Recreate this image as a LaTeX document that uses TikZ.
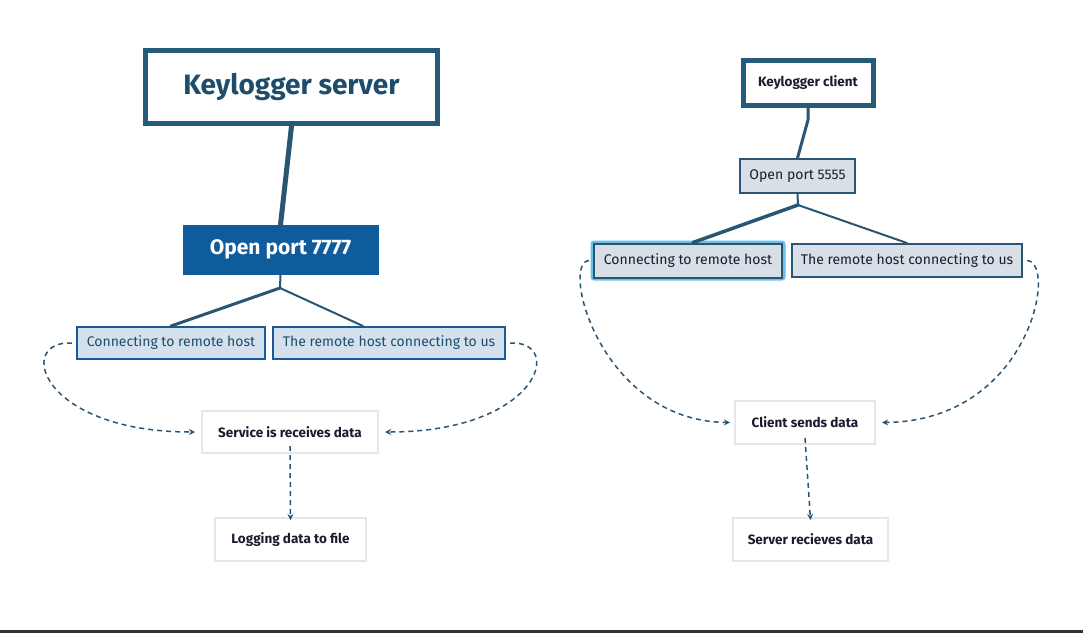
\documentclass[tikz,border=0pt]{standalone}
\usepackage{fontspec}
\setmainfont{Fira Sans}
\usetikzlibrary{arrows.meta}
\definecolor{dkb}{HTML}{245A7A}
\definecolor{srvtxt}{HTML}{1E4D6B}
\definecolor{p7}{HTML}{0F5C9C}
\definecolor{lfill}{HTML}{D4E1ED}
\definecolor{lbord}{HTML}{1A5A96}
\definecolor{gfill}{HTML}{D9DFE6}
\definecolor{gbord}{HTML}{2A5673}
\definecolor{glow}{HTML}{6AC1EE}
\definecolor{txt}{HTML}{1B1B2F}
\definecolor{pale}{HTML}{E6E6E6}
\tikzset{
  bigbox/.style={draw=dkb, line width=5pt, fill=white, inner sep=0pt},
  portbox/.style={fill=p7, draw=p7, inner sep=0pt, text=white, font=\fontsize{21}{24}\selectfont\bfseries},
  lbox/.style={fill=lfill, draw=lbord, line width=2pt, inner sep=0pt, text=srvtxt, font=\fontsize{14}{16}\selectfont},
  gbox/.style={fill=gfill, draw=gbord, line width=2pt, inner sep=0pt, text=txt, font=\fontsize{14}{16}\selectfont},
  pbox/.style={draw=pale, line width=2pt, fill=white, inner sep=0pt, text=txt, font=\fontsize{13.5}{15}\selectfont\bfseries},
  conn/.style={draw=gbord, line cap=round, line join=round},
  dashcon/.style={draw=gbord, line width=1.5pt, dash pattern=on 5pt off 4pt, -{Stealth[length=6pt,width=6pt]}}
}
\begin{document}
\begin{tikzpicture}[x=1pt,y=-1pt]
\useasboundingbox (0,0) rectangle (1083,633);
\fill[white] (0,0) rectangle (1083,633);
\fill[black!80] (0,630) rectangle (1083,633);
% left diagram
\node[bigbox, minimum width=292pt, minimum height=73pt, text=srvtxt, font=\fontsize{28}{32}\selectfont\bfseries] (server) at (291.5,87) {Keylogger server};
\node[portbox, minimum width=195pt, minimum height=49pt] (p7) at (280.5,249.5) {Open port 7777};
\node[lbox, minimum width=188pt, minimum height=32pt] (c1) at (171,343) {Connecting to remote host};
\node[lbox, minimum width=232pt, minimum height=32pt] (c2) at (389,343) {The remote host connecting to us};
\node[pbox, minimum width=176pt, minimum height=42pt] (svc) at (290,432) {Service is receives data};
\node[pbox, minimum width=151pt, minimum height=43pt] (log) at (290.5,539.5) {Logging data to file};
\coordinate (b1) at (280,288);
\draw[conn, line width=5pt] (server.south) -- (p7.north);
\draw[conn, line width=2pt] (p7.south) -- (b1);
\draw[conn, line width=3pt] (b1) -- (c1.north);
\draw[conn, line width=2pt] (b1) -- ([xshift=-26pt]c2.north);
\draw[dashcon] ([xshift=-4pt]c1.west) .. controls (15,340) and (40,432) .. ([xshift=-6pt]svc.west);
\draw[dashcon] ([xshift=4pt]c2.east) .. controls (565,340) and (540,432) .. ([xshift=6pt]svc.east);
\draw[dashcon] ([yshift=8pt]svc.south) -- ([yshift=-3pt]log.north);
% right diagram
\node[bigbox, minimum width=130pt, minimum height=45pt, text=txt, font=\fontsize{13.5}{15}\selectfont\bfseries] (client) at (808,82.5) {Keylogger client};
\node[gbox, minimum width=115pt, minimum height=34pt] (p5) at (797.5,176) {Open port 5555};
\draw[glow, line width=3pt, rounded corners=2pt] (592,242) rectangle (784,279);
\node[gbox, minimum width=188pt, minimum height=34pt] (d1) at (688,260.5) {Connecting to remote host};
\node[gbox, minimum width=230pt, minimum height=33pt] (d2) at (907,260.5) {The remote host connecting to us};
\node[pbox, minimum width=140pt, minimum height=43pt] (csd) at (805,422.5) {Client sends data};
\node[pbox, minimum width=155pt, minimum height=43pt] (srd) at (810.5,539.5) {Server recieves data};
\coordinate (k1) at (808,120);
\coordinate (b2) at (798,205);
\draw[conn, line width=3pt] (client.south) -- (k1) -- (p5.north);
\draw[conn, line width=2pt] (p5.south) -- (b2);
\draw[conn, line width=3.5pt] (b2) -- ([xshift=5pt]d1.north);
\draw[conn, line width=2pt] (b2) -- (d2.north);
\draw[dashcon] ([xshift=-4pt]d1.west) .. controls (560,262) and (600,421) .. ([xshift=-4pt]csd.west);
\draw[dashcon] ([xshift=4pt]d2.east) .. controls (1058,262) and (1030,421) .. ([xshift=6pt]csd.east);
\draw[dashcon] ([yshift=7pt]csd.south) -- ([yshift=-3pt]srd.north);
\end{tikzpicture}
\end{document}
